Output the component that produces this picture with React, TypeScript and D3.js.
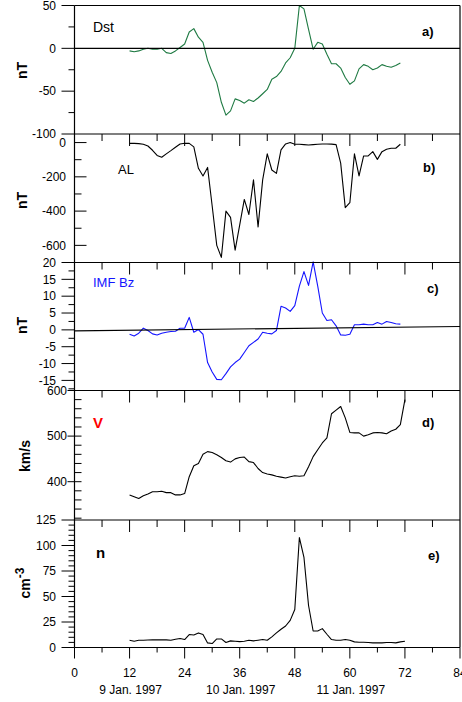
import React from "react";
import * as d3 from "d3";

// Hours since 00 UT, 9 Jan. 1997
const hours = [
  12, 13, 14, 15, 16, 17, 18, 19, 20, 21, 22, 23, 24, 25, 26, 27, 28, 29, 30, 31,
  32, 33, 34, 35, 36, 37, 38, 39, 40, 41, 42, 43, 44, 45, 46, 47, 48, 49, 50, 51,
  52, 53, 54, 55, 56, 57, 58, 59, 60, 61, 62, 63, 64, 65, 66, 67, 68, 69, 70, 71, 72,
];

// Dst index (nT), 12h..71h
const dst = [
  -3, -4, -3, -1, 0, -1, -1, 0, -5, -6, -3, 1, 5, 19, 23, 13, 7, -14, -28, -40,
  -63, -78, -73, -59, -61, -64, -60, -62, -58, -53, -48, -36, -33, -27, -17, -11, 0, 50, 46, 22,
  -1, 7, 5, -7, -18, -18, -23, -34, -42, -38, -24, -19, -21, -25, -23, -19, -21, -22, -20, -17,
];

// AL index (nT), 12h..71h
const al = [
  -5, -5, -6, -10, -20, -45, -75, -86, -66, -47, -27, -8, -4, -5, -25, -150, -195, -145, -370, -600,
  -670, -400, -437, -628, -480, -332, -420, -218, -492, -218, -66, -160, -180, -43, -8, 0, -10, -10, -12, -14,
  -12, -10, -8, -8, -9, -12, -120, -380, -351, -66, -195, -78, -78, -53, -98, -53, -39, -33, -33, -10,
];

// IMF Bz (nT), 12h..71h
const imfBz = [
  -1.3, -1.8, -1.0, 0.5, -0.2, -1.2, -1.5, -1.0, -0.7, -0.5, -0.4, 0.5, 0.5, 3.7, -0.7, 0.1, -1.3, -9.7, -12.5, -14.7,
  -14.8, -13, -11, -9.7, -8.7, -6.7, -4.7, -3.7, -2.7, -0.7, -1.0, -1.2, -0.2, 7.0, 6.5, 5.5, 7.2, 13, 17.3, 13.2,
  20.2, 13, 5.0, 2.8, 3.0, 1.2, -1.5, -1.6, -1.3, 1.5, 1.5, 1.7, 1.5, 1.5, 2.2, 1.7, 2.5, 2.2, 1.8, 1.7,
];

// Reference line across the Bz panel (hour, nT)
const bzBaselineHours = [0, 84];
const bzBaselineValues = [-0.3, 1.0];

// Solar wind speed (km/s), 12h..72h
const speed = [
  371, 367, 363, 369, 373, 378, 378, 379, 376, 376, 371, 371, 374, 411, 435, 440, 460, 466, 464, 459,
  453, 446, 443, 450, 453, 454, 444, 442, 429, 420, 417, 415, 412, 410, 408, 411, 413, 412, 413, 433,
  455, 470, 485, 496, 549, 557, 565, 540, 508, 507, 507, 500, 503, 507, 508, 507, 505, 511, 515, 525, 580,
];

// Proton density (cm^-3), 12h..72h
const density = [
  7.1, 6.2, 7.1, 7.1, 7.3, 7.5, 7.5, 7.5, 7.5, 7.1, 8.1, 8.8, 7.8, 12.7, 12.3, 14.3, 12.7, 4.5, 3.9, 8.4,
  8.4, 4.9, 6.5, 6.2, 5.8, 6.2, 7.1, 6.5, 7.1, 7.8, 7.1, 10.4, 14.3, 17.9, 21.1, 26.6, 37.3, 107.8, 88.3, 41.2,
  16.2, 16.2, 18.5, 13, 7.8, 7.1, 7.1, 7.8, 7.1, 5.5, 5.2, 5.2, 4.9, 4.5, 4.5, 4.5, 4.9, 4.9, 4.5, 5.5, 6.2,
];

const xTickLabels = ["0", "12", "24", "36", "48", "60", "72", "84"];
const xTickValues = [0, 12, 24, 36, 48, 60, 72, 84];
const dateLabels = ["9 Jan. 1997", "10 Jan. 1997", "11 Jan. 1997"];
const dateHours = [12, 36, 60];

const W = 462;
const H = 702;
const FONT = "'Liberation Sans', Arial, Helvetica, sans-serif";
const LEFT = 74.5;
const RIGHT = 460;

const x = d3.scaleLinear().domain([0, 84]).range([LEFT, RIGHT]);

type TickStyle = { majorOut: number; majorIn: number; minorOut: number; minorIn: number; labelX: number };

type Panel = {
  key: string;
  top: number;
  bottom: number;
  domain: [number, number];
  step: number;
  majorEvery: number;
  ticks: TickStyle;
  values: number[];
  color: string;
  name: string;
  nameX: number;
  nameY: number;
  nameSize: number;
  nameBold: boolean;
  nameColor: string;
  tag: string;
  tagX: number;
  tagY: number;
  unit: React.ReactNode;
  unitX: number;
  unitY: number;
};

const panels: Panel[] = [
  {
    key: "a", top: 5.5, bottom: 134, domain: [-100, 50], step: 25, majorEvery: 50,
    ticks: { majorOut: 13, majorIn: 0, minorOut: 6, minorIn: 0, labelX: 56 },
    values: dst, color: "#1f7a43",
    name: "Dst", nameX: 93, nameY: 31.5, nameSize: 14, nameBold: false, nameColor: "#000",
    tag: "a)", tagX: 422, tagY: 35.5,
    unit: "nT", unitX: 22, unitY: 70.5,
  },
  {
    key: "b", top: 134, bottom: 262.5, domain: [-700, 50], step: 100, majorEvery: 200,
    ticks: { majorOut: 0, majorIn: 12, minorOut: 0, minorIn: 7, labelX: 66 },
    values: al, color: "#000",
    name: "AL", nameX: 118, nameY: 173.5, nameSize: 13, nameBold: false, nameColor: "#000",
    tag: "b)", tagX: 423, tagY: 171.5,
    unit: "nT", unitX: 22, unitY: 200.5,
  },
  {
    key: "c", top: 262.5, bottom: 390.5, domain: [-18, 20], step: 2.5, majorEvery: 5,
    ticks: { majorOut: 13, majorIn: 0, minorOut: 6, minorIn: 0, labelX: 56 },
    values: imfBz, color: "#1414ff",
    name: "IMF Bz", nameX: 93, nameY: 286.5, nameSize: 13, nameBold: false, nameColor: "#1414ff",
    tag: "c)", tagX: 427, tagY: 292.5,
    unit: "nT", unitX: 22, unitY: 325.5,
  },
  {
    key: "d", top: 390.5, bottom: 520, domain: [316, 600], step: 20, majorEvery: 100,
    ticks: { majorOut: 7, majorIn: 7, minorOut: 0, minorIn: 7, labelX: 67 },
    values: speed, color: "#000",
    name: "V", nameX: 93, nameY: 428, nameSize: 15, nameBold: true, nameColor: "#ff0000",
    tag: "d)", tagX: 422, tagY: 426.5,
    unit: "km/s", unitX: 25, unitY: 456,
  },
  {
    key: "e", top: 520, bottom: 647.5, domain: [0, 125], step: 5, majorEvery: 25,
    ticks: { majorOut: 13, majorIn: 0, minorOut: 6, minorIn: 0, labelX: 56 },
    values: density, color: "#000",
    name: "n", nameX: 96, nameY: 558, nameSize: 15, nameBold: true, nameColor: "#000",
    tag: "e)", tagX: 428, tagY: 559.5,
    unit: "cm", unitX: 25, unitY: 583,
  },
];

function fmt(v: number) {
  return Number.isInteger(v) ? String(v) : v.toFixed(1);
}

function PanelView({ p }: { p: Panel }) {
  const y = d3.scaleLinear().domain(p.domain).range([p.bottom, p.top]);
  const line = d3
    .line<number>()
    .x((_, i) => x(hours[i]))
    .y((d) => y(d));

  const [lo, hi] = p.domain;
  const first = Math.ceil(lo / p.step) * p.step;
  const tickVals: number[] = [];
  for (let v = first; v <= hi + 1e-9; v += p.step) tickVals.push(+v.toFixed(4));

  const isMajor = (v: number) => Math.abs(v / p.majorEvery - Math.round(v / p.majorEvery)) < 1e-6;

  // x ticks along the top edge (inward), every 6 h
  const topTicks: number[] = [];
  if (p.key !== "a") for (let h = 6; h < 84; h += 6) topTicks.push(h);

  const unitEl =
    p.key === "e" ? (
      <text
        transform={`translate(${p.unitX + 5},${p.unitY}) rotate(-90)`}
        textAnchor="middle"
        fontFamily={FONT}
        fontWeight="bold"
        fontSize={14}
      >
        cm
        <tspan fontSize={12} dy={-6}>-3</tspan>
      </text>
    ) : (
      <text
        transform={`translate(${p.unitX},${p.unitY}) rotate(-90)`}
        textAnchor="middle"
        dominantBaseline="central"
        fontFamily={FONT}
        fontWeight="bold"
        fontSize={14}
      >
        {p.unit}
      </text>
    );

  return (
    <g>
      {/* series */}
      <path d={line(p.values) || ""} fill="none" stroke={p.color} strokeWidth={1.1} strokeLinejoin="round" />

      {p.key === "a" && (
        <line x1={LEFT} x2={RIGHT} y1={y(0)} y2={y(0)} stroke="#000" strokeWidth={1.1} />
      )}
      {p.key === "c" && (
        <line
          x1={x(bzBaselineHours[0])}
          x2={x(bzBaselineHours[1])}
          y1={y(bzBaselineValues[0])}
          y2={y(bzBaselineValues[1])}
          stroke="#000"
          strokeWidth={1.1}
        />
      )}

      {/* y ticks */}
      {tickVals.map((v) => {
        const major = isMajor(v);
        const out = major ? p.ticks.majorOut : p.ticks.minorOut;
        const inn = major ? p.ticks.majorIn : p.ticks.minorIn;
        const yy = y(v);
        return (
          <g key={`t${v}`}>
            {(out > 0 || inn > 0) && (
              <line x1={LEFT - out} x2={LEFT + inn} y1={yy} y2={yy} stroke="#000" strokeWidth={1} />
            )}
            {major && (
              <text
                x={p.ticks.labelX}
                y={yy}
                dy="0.35em"
                textAnchor="end"
                fontFamily={FONT}
                fontSize={12}
              >
                {fmt(v)}
              </text>
            )}
          </g>
        );
      })}

      {topTicks.map((h) => (
        <line
          key={`x${h}`}
          x1={x(h)}
          x2={x(h)}
          y1={p.top}
          y2={p.top + (h % 12 === 0 ? 12 : 7)}
          stroke="#000"
          strokeWidth={1}
        />
      ))}

      {/* top border */}
      <line x1={LEFT} x2={RIGHT} y1={p.top} y2={p.top} stroke="#000" strokeWidth={1.2} />

      <text
        x={p.nameX}
        y={p.nameY}
        fontFamily={FONT}
        fontSize={p.nameSize}
        fontWeight={p.nameBold ? "bold" : "normal"}
        fill={p.nameColor}
      >
        {p.name}
      </text>
      <text x={p.tagX} y={p.tagY} fontFamily={FONT} fontSize={13} fontWeight="bold">
        {p.tag}
      </text>
      {unitEl}
    </g>
  );
}

export default function App() {
  const bottom = panels[panels.length - 1].bottom;
  const bottomTicks: number[] = [];
  for (let h = 0; h <= 84; h += 6) bottomTicks.push(h);

  return (
    <svg
      width={W}
      height={H}
      viewBox={`0 0 ${W} ${H}`}
      style={{ position: "absolute", left: 0, top: 0, background: "#fff" }}
    >
      <rect x={0} y={0} width={W} height={H} fill="#fff" />
      {panels.map((p) => (
        <PanelView key={p.key} p={p} />
      ))}

      {/* frame */}
      <line x1={LEFT} x2={LEFT} y1={panels[0].top} y2={bottom} stroke="#000" strokeWidth={1.2} />
      <line x1={RIGHT} x2={RIGHT} y1={panels[0].top} y2={bottom} stroke="#000" strokeWidth={1.2} />
      <line x1={LEFT} x2={RIGHT} y1={bottom} y2={bottom} stroke="#000" strokeWidth={1.2} />

      {/* time axis */}
      {bottomTicks.map((h) => (
        <line
          key={`b${h}`}
          x1={x(h)}
          x2={x(h)}
          y1={bottom}
          y2={bottom + (h % 12 === 0 ? 11 : 5)}
          stroke="#000"
          strokeWidth={1}
        />
      ))}
      {xTickValues.map((h, i) => (
        <text key={`l${h}`} x={x(h)} y={677} textAnchor="middle" fontFamily={FONT} fontSize={12}>
          {xTickLabels[i]}
        </text>
      ))}
      {dateHours.map((h, i) => (
        <text key={`d${h}`} x={x(h) + 1} y={694} textAnchor="middle" fontFamily={FONT} fontSize={12}>
          {dateLabels[i]}
        </text>
      ))}
    </svg>
  );
}
